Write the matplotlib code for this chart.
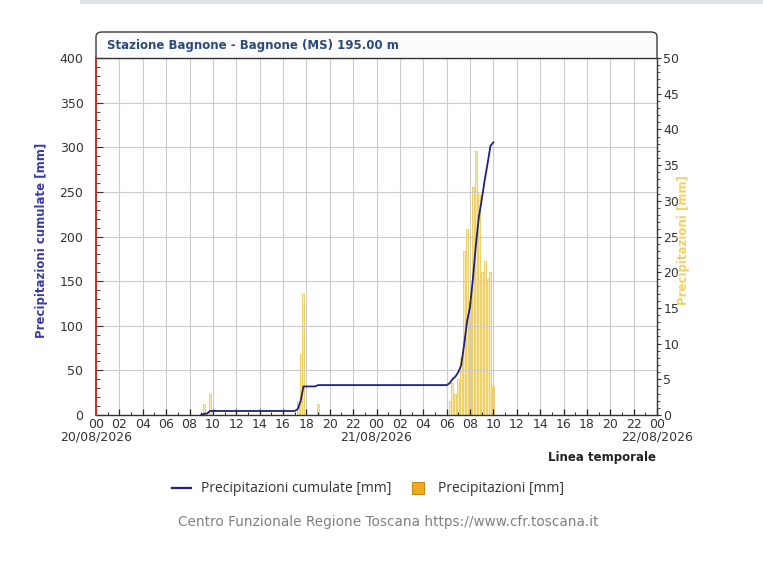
import matplotlib
matplotlib.use('Agg')
import matplotlib.pyplot as plt
import numpy as np
from matplotlib.patches import FancyBboxPatch, Rectangle
from matplotlib.lines import Line2D
from matplotlib.ticker import MultipleLocator

# ---------------- data ----------------
# 15-minute rainfall (mm); time in hours since 20/08/2026 00:00
rain_hours = [9.25, 9.75, 17.25, 17.5, 17.75, 19.0,
              30.25, 30.5, 30.75, 31.0, 31.25, 31.5, 31.75, 32.0,
              32.25, 32.5, 32.75, 33.0, 33.25, 33.5, 33.75, 34.0]
rain_mm = [1.5, 3.0, 2.0, 8.5, 17.0, 1.5,
           2.0, 4.5, 3.0, 5.0, 8.0, 23.0, 26.0, 16.0,
           32.0, 37.0, 31.0, 20.0, 21.5, 19.0, 20.0, 4.0]
series_start = 9.0     # first recorded value of the cumulative series
series_end = 34.0      # last recorded value (21/08 10:00)
step = 0.25

hour_labels = ['00', '02', '04', '06', '08', '10', '12', '14', '16', '18', '20', '22']
day_labels = ['20/08/2026', '21/08/2026', '22/08/2026']

title = 'Stazione Bagnone - Bagnone (MS) 195.00 m'

# cumulative series built from the rainfall values
t = np.arange(series_start, series_end + step / 2, step)
rain_series = np.zeros_like(t)
for h, v in zip(rain_hours, rain_mm):
    rain_series[int(round((h - series_start) / step))] += v
cum = np.cumsum(rain_series)

# ---------------- figure ----------------
W, H = 763, 564
fig = plt.figure(figsize=(W / 100, H / 100), dpi=100)
fig.patch.set_facecolor('white')

def fx(x):
    return x / W

def fy(y):
    return 1 - y / H

# faint bar at the very top of the page
fig.patches.append(Rectangle((fx(80), fy(4)), fx(W - 80), 4 / H, transform=fig.transFigure,
                             facecolor='#DDE3E8', edgecolor='none', zorder=-2))

# rounded panel with title bar
panel = FancyBboxPatch((fx(96), fy(200)), fx(657) - fx(96), fy(32) - fy(200),
                       boxstyle='round,pad=0,rounding_size=0.008',
                       transform=fig.transFigure, facecolor='#FCFCFC',
                       edgecolor='#3A3A3A', linewidth=1.0, zorder=-1)
fig.patches.append(panel)
fig.text(fx(107), fy(46), title, fontsize=8.5, fontweight='bold', color='#2B4A7E',
         ha='left', va='center', family='DejaVu Sans')

left, right, bottom, top = fx(96), fx(657), fy(415), fy(58)
ax2 = fig.add_axes([left, bottom, right - left, top - bottom])
ax = fig.add_axes([left, bottom, right - left, top - bottom], sharex=ax2)
ax.set_zorder(ax2.get_zorder() + 1)
ax.patch.set_visible(False)
ax2.set_facecolor('white')

# bars (right axis)
ax2.bar(rain_hours, rain_mm, width=0.17, facecolor='#FBEBB2', edgecolor='#EEC953',
        linewidth=0.6, zorder=2)
ax2.set_ylim(0, 50)
ax2.yaxis.tick_right()
ax2.yaxis.set_major_locator(MultipleLocator(5))
ax2.yaxis.set_minor_locator(MultipleLocator(1))
ax2.tick_params(axis='y', which='major', direction='out', length=3, width=0.8,
                labelsize=9, labelcolor='#333333', color='#333333', pad=1.5)
ax2.tick_params(axis='y', which='minor', direction='out', length=2, width=0.6, color='#333333')
ax2.tick_params(axis='x', which='both', bottom=False, labelbottom=False)

# cumulative line (left axis)
ax.plot(t, cum, color='#1E2180', linewidth=1.3, zorder=5)
ax.set_ylim(0, 400)
ax.set_xlim(0, 48)
ax.yaxis.set_major_locator(MultipleLocator(50))
ax.yaxis.set_minor_locator(MultipleLocator(10))
ax.tick_params(axis='y', which='major', direction='in', length=5, width=0.8,
               labelsize=9, labelcolor='#333333', color='#333333', pad=9)
ax.tick_params(axis='y', which='minor', direction='in', length=3, width=0.6, color='#333333')

xt = np.arange(0, 49, 2)
ax.set_xticks(xt)
ax.set_xticklabels([hour_labels[int(h % 24) // 2] for h in xt])
ax.xaxis.set_minor_locator(MultipleLocator(1))
ax.tick_params(axis='x', which='major', direction='in', length=4, width=0.9,
               labelsize=9, labelcolor='#333333', color='#222222', pad=2)
ax.tick_params(axis='x', which='minor', direction='in', length=2, width=0.7, color='#222222')

# date labels under the midnight ticks
for i, d in enumerate(day_labels):
    ax.annotate(d, xy=(24 * i, 0), xycoords=('data', 'axes fraction'),
                xytext=(0, -16), textcoords='offset pixels', ha='center', va='top',
                fontsize=9, color='#333333', annotation_clip=False)

ax.grid(True, which='major', color='#CCCCCC', linewidth=0.8, zorder=0)
ax.set_axisbelow(True)

for sp in ['top', 'right', 'bottom', 'left']:
    ax2.spines[sp].set_visible(False)
ax.spines['left'].set_color('#C0302B')
ax.spines['left'].set_linewidth(1.4)
ax.spines['left'].set_zorder(10)
for sp in ['bottom', 'top', 'right']:
    ax.spines[sp].set_color('#333333')
    ax.spines[sp].set_linewidth(1.0)

# axis titles
fig.text(fx(42), fy(240), 'Precipitazioni cumulate [mm]', rotation=90, ha='center', va='center',
         fontsize=8.5, fontweight='bold', color='#3A3AAE')
fig.text(fx(684), fy(240), 'Precipitazioni [mm]', rotation=90, ha='center', va='center',
         fontsize=8.5, fontweight='bold', color='#EDC84E', alpha=0.85)
fig.text(fx(656), fy(458), 'Linea temporale', ha='right', va='center',
         fontsize=8.5, fontweight='bold', color='#222222')

# legend
handles = [Line2D([0], [0], color='#1E2180', linewidth=1.6),
           Line2D([0], [0], linestyle='none', marker='s', markersize=9,
                  markerfacecolor='#F2A922', markeredgecolor='#C98A10', markeredgewidth=0.8)]
fig.legend(handles, ['Precipitazioni cumulate [mm]', 'Precipitazioni [mm]'],
           loc='center', bbox_to_anchor=(fx(368), fy(489)), ncol=2, frameon=False,
           handlelength=1.4, columnspacing=1.2, handletextpad=0.75,
           labelcolor='#333333', prop={'family': 'Open Sans', 'size': 10})

fig.text(fx(388), fy(522), 'Centro Funzionale Regione Toscana https://www.cfr.toscana.it',
         ha='center', va='center', fontsize=9.8, color='#808080')

fig.savefig('out.png', dpi=100)
